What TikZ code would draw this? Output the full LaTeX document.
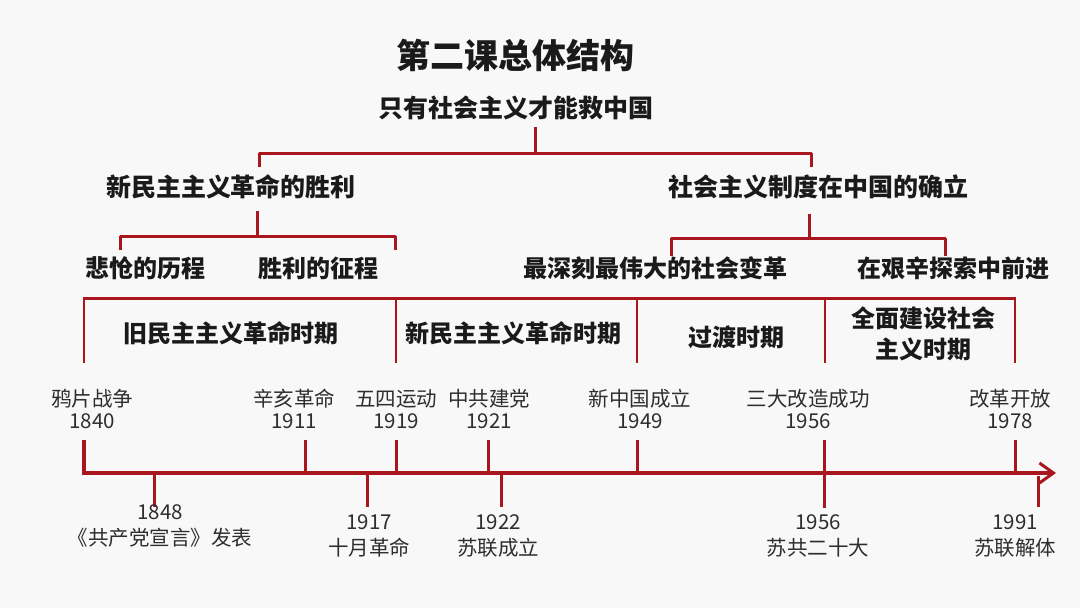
\documentclass[tikz,border=0pt]{standalone}
\usepackage{fontspec}
\newfontfamily\cjk{Noto Sans CJK SC}
\usetikzlibrary{arrows.meta}
\definecolor{bgc}{HTML}{F8F8F8}
\definecolor{brred}{HTML}{AA161E}
\definecolor{txtd}{HTML}{1A1A1A}
\definecolor{txtl}{HTML}{2E2E2E}
\tikzset{
  br/.style={draw=brred, line width=3pt, line join=round},
  per/.style={draw=brred, line width=2pt},
  tl/.style={draw=brred, line width=4pt, line join=miter},
  tick/.style={draw=brred, line width=3pt},
  titlet/.style={inner sep=0pt, text=txtd, font=\cjk\bfseries\fontsize{34}{36}\selectfont},
  headt/.style={inner sep=0pt, text=txtd, font=\cjk\bfseries\fontsize{25}{28}\selectfont},
  subt/.style={inner sep=0pt, text=txtd, font=\cjk\bfseries\fontsize{24}{26}\selectfont},
  pert/.style={inner sep=0pt, text=txtd, align=center, font=\cjk\bfseries\fontsize{24}{31}\selectfont},
  datet/.style={inner sep=0pt, text=txtl, align=center, font=\cjk\fontsize{20.5}{22}\selectfont},
  bott/.style={inner sep=0pt, text=txtl, align=center, font=\cjk\fontsize{20.5}{26}\selectfont},
}
\begin{document}
\begin{tikzpicture}[x=1pt,y=-1pt]
\fill[bgc] (0,0) rectangle (1080,608);
\useasboundingbox (0,0) rectangle (1080,608);

% titles
\node[titlet] (title) at (515,55) {第二课总体结构};
\node[headt] (root) at (516,108) {只有社会主义才能救中国};
\node[headt] (left) at (231,187) {新民主主义革命的胜利};
\node[headt] (right) at (818,187) {社会主义制度在中国的确立};
\node[subt] (l1) at (145,268) {悲怆的历程};
\node[subt] (l2) at (318,268) {胜利的征程};
\node[subt] (r1) at (655,268) {最深刻最伟大的社会变革};
\node[subt] (r2) at (953,268) {在艰辛探索中前进};

% top bracket
\coordinate (rs) at (535,127);
\coordinate (rb) at (535,153);
\draw[br] (rs) -- (rb);
\draw[br] (259,167) -- (259,153) -- (811,153) -- (811,167);
% left bracket
\draw[br] (257,211) -- (257,236);
\draw[br] (120,250) -- (120,236) -- (395,236) -- (395,250);
% right bracket
\draw[br] (809,214) -- (809,238);
\draw[br] (671,256) -- (671,238) -- (945,238) -- (945,256);

% periods
\draw[per, line width=3pt] (84,298) -- (1016,298);
\foreach \x in {84,396,637,825,1015} \draw[per] (\x,297) -- (\x,363);
\node[pert] (p1) at (231,333) {旧民主主义革命时期};
\node[pert] (p2) at (513,333) {新民主主义革命时期};
\node[pert] (p3) at (736,337) {过渡时期};
\node[pert] (p4) at (923,334) {全面建设社会\\主义时期};

% timeline
\coordinate (tstart) at (84,440);
\coordinate (tcorner) at (84,473);
\coordinate (tend) at (1056,473);
\draw[tl, -{Straight Barb[length=14pt,width=20pt,line width=3pt]}] (tstart) -- (tcorner) -- (tend);

% upper ticks
\foreach \x in {305,396,488,637,1015} \draw[tick] (\x,440) -- (\x,473);
\draw[tick] (824,440) -- (824,508);
% lower ticks
\foreach \x in {154,367,501} \draw[tick] (\x,473) -- (\x,507);
\draw[tick] (1038,476) -- (1038,507);

% date labels above
\node[datet] (d1840) at (92,409) {鸦片战争\\1840};
\node[datet] (d1911) at (294,409) {辛亥革命\\1911};
\node[datet] (d1919) at (396,409) {五四运动\\1919};
\node[datet] (d1921) at (489,409) {中共建党\\1921};
\node[datet] (d1949) at (640,409) {新中国成立\\1949};
\node[datet] (d1956) at (808,409) {三大改造成功\\1956};
\node[datet] (d1978) at (1010,409) {改革开放\\1978};

% date labels below
\node[bott] (b1848) at (160,526) {1848\\《共产党宣言》发表};
\node[bott] (b1917) at (369,536) {1917\\十月革命};
\node[bott] (b1922) at (498,536) {1922\\苏联成立};
\node[bott] (b1956) at (818,536) {1956\\苏共二十大};
\node[bott] (b1991) at (1015,536) {1991\\苏联解体};
\end{tikzpicture}
\end{document}
